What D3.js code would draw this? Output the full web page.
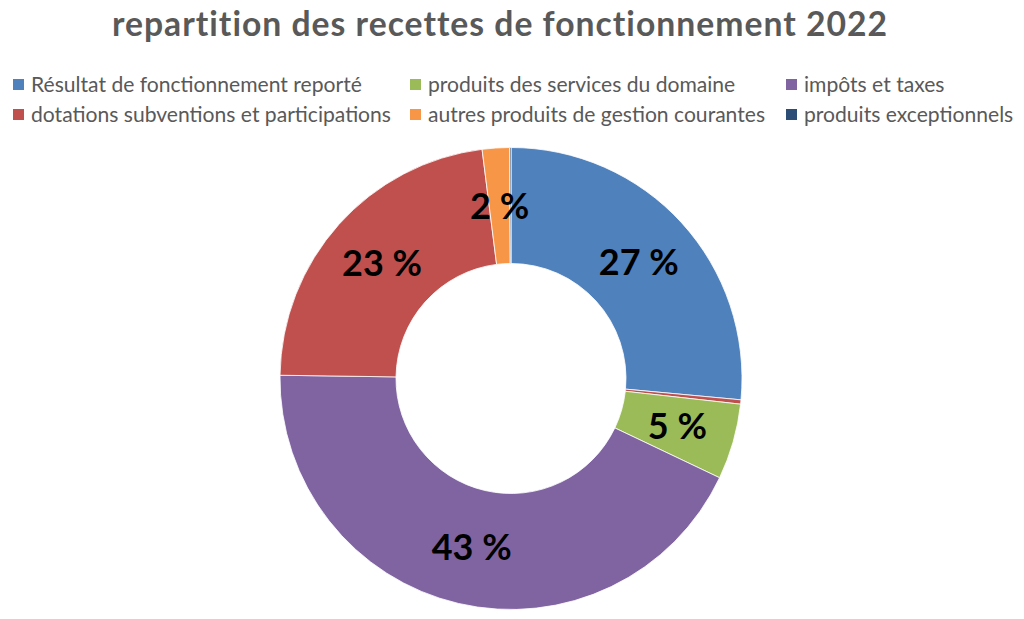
<!DOCTYPE html>
<html><head><meta charset="utf-8">
<script src="https://cdn.jsdelivr.net/npm/d3@7"></script>
<style>body{margin:0;background:#fff}</style>
</head><body>
<svg id="c" width="1024" height="619"></svg>
<script>
const title = "repartition des recettes de fonctionnement 2022";
const categories = ["Résultat de fonctionnement reporté", "", "produits des services du domaine", "impôts et taxes", "dotations subventions et participations", "autres produits de gestion courantes", "produits exceptionnels"];
const values = [26.5, 0.3, 5.3, 43.2, 22.8, 1.9, 0.1];
const colors = ["#4F81BD", "#C0504D", "#9BBB59", "#8064A2", "#C0504D", "#F79646", "#2C4D75"];
const labels = ["27 %", "", "5 %", "43 %", "23 %", "2 %", ""];
const legendOrder = [0, 2, 3, 4, 5, 6];

const svg = d3.select("#c");
const font = "Lato, 'Open Sans', sans-serif";

function fitSize(sel, w) {
  const len = sel.node().getComputedTextLength();
  const fs = parseFloat(sel.attr("font-size"));
  return fs * w / len;
}

const t = svg.append("text").attr("x", 500).attr("y", 36).attr("text-anchor", "middle")
  .attr("font-family", font).attr("font-weight", "bold").attr("font-size", 28)
  .attr("fill", "#595959").attr("letter-spacing", 1).text(title);
t.attr("font-size", fitSize(t, 786));

const cx = 511, cy = 378.5, R = 231, r = 115;
const data = categories.map((c, i) => ({name: c, value: values[i], color: colors[i], label: labels[i]}));
const pie = d3.pie().value(d => d.value).sort(null);
const arc = d3.arc().innerRadius(r).outerRadius(R);
const g = svg.append("g").attr("transform", `translate(${cx},${cy})`);
const arcs = pie(data);
g.selectAll("path").data(arcs).join("path")
  .attr("d", arc).attr("fill", d => d.data.color)
  .attr("stroke", "#fff").attr("stroke-width", 0.8);
g.selectAll("text").data(arcs.filter(d => d.data.label)).join("text")
  .attr("transform", d => `translate(${arc.centroid(d)})`)
  .attr("text-anchor", "middle").attr("dy", "0.36em")
  .attr("font-family", font).attr("font-weight", "bold").attr("font-size", 36)
  .attr("fill", "#000").text(d => d.data.label);

const colX = [13, 410, 786], rowY = [85, 115];
const lg = svg.append("g");
const probe = lg.append("text").attr("font-family", font).attr("font-size", 17).text(categories[0]);
const fs = fitSize(probe, 331);
probe.remove();
legendOrder.forEach((idx, k) => {
  const col = k % 3, row = Math.floor(k / 3);
  const x = colX[col], y = rowY[row];
  lg.append("rect").attr("x", x).attr("y", y - 6).attr("width", 11).attr("height", 11).attr("fill", colors[idx]);
  lg.append("text").attr("x", x + 18).attr("y", y).attr("dy", "0.35em")
    .attr("font-family", font).attr("font-size", fs).attr("fill", "#595959").text(categories[idx]);
});
</script>
</body></html>
